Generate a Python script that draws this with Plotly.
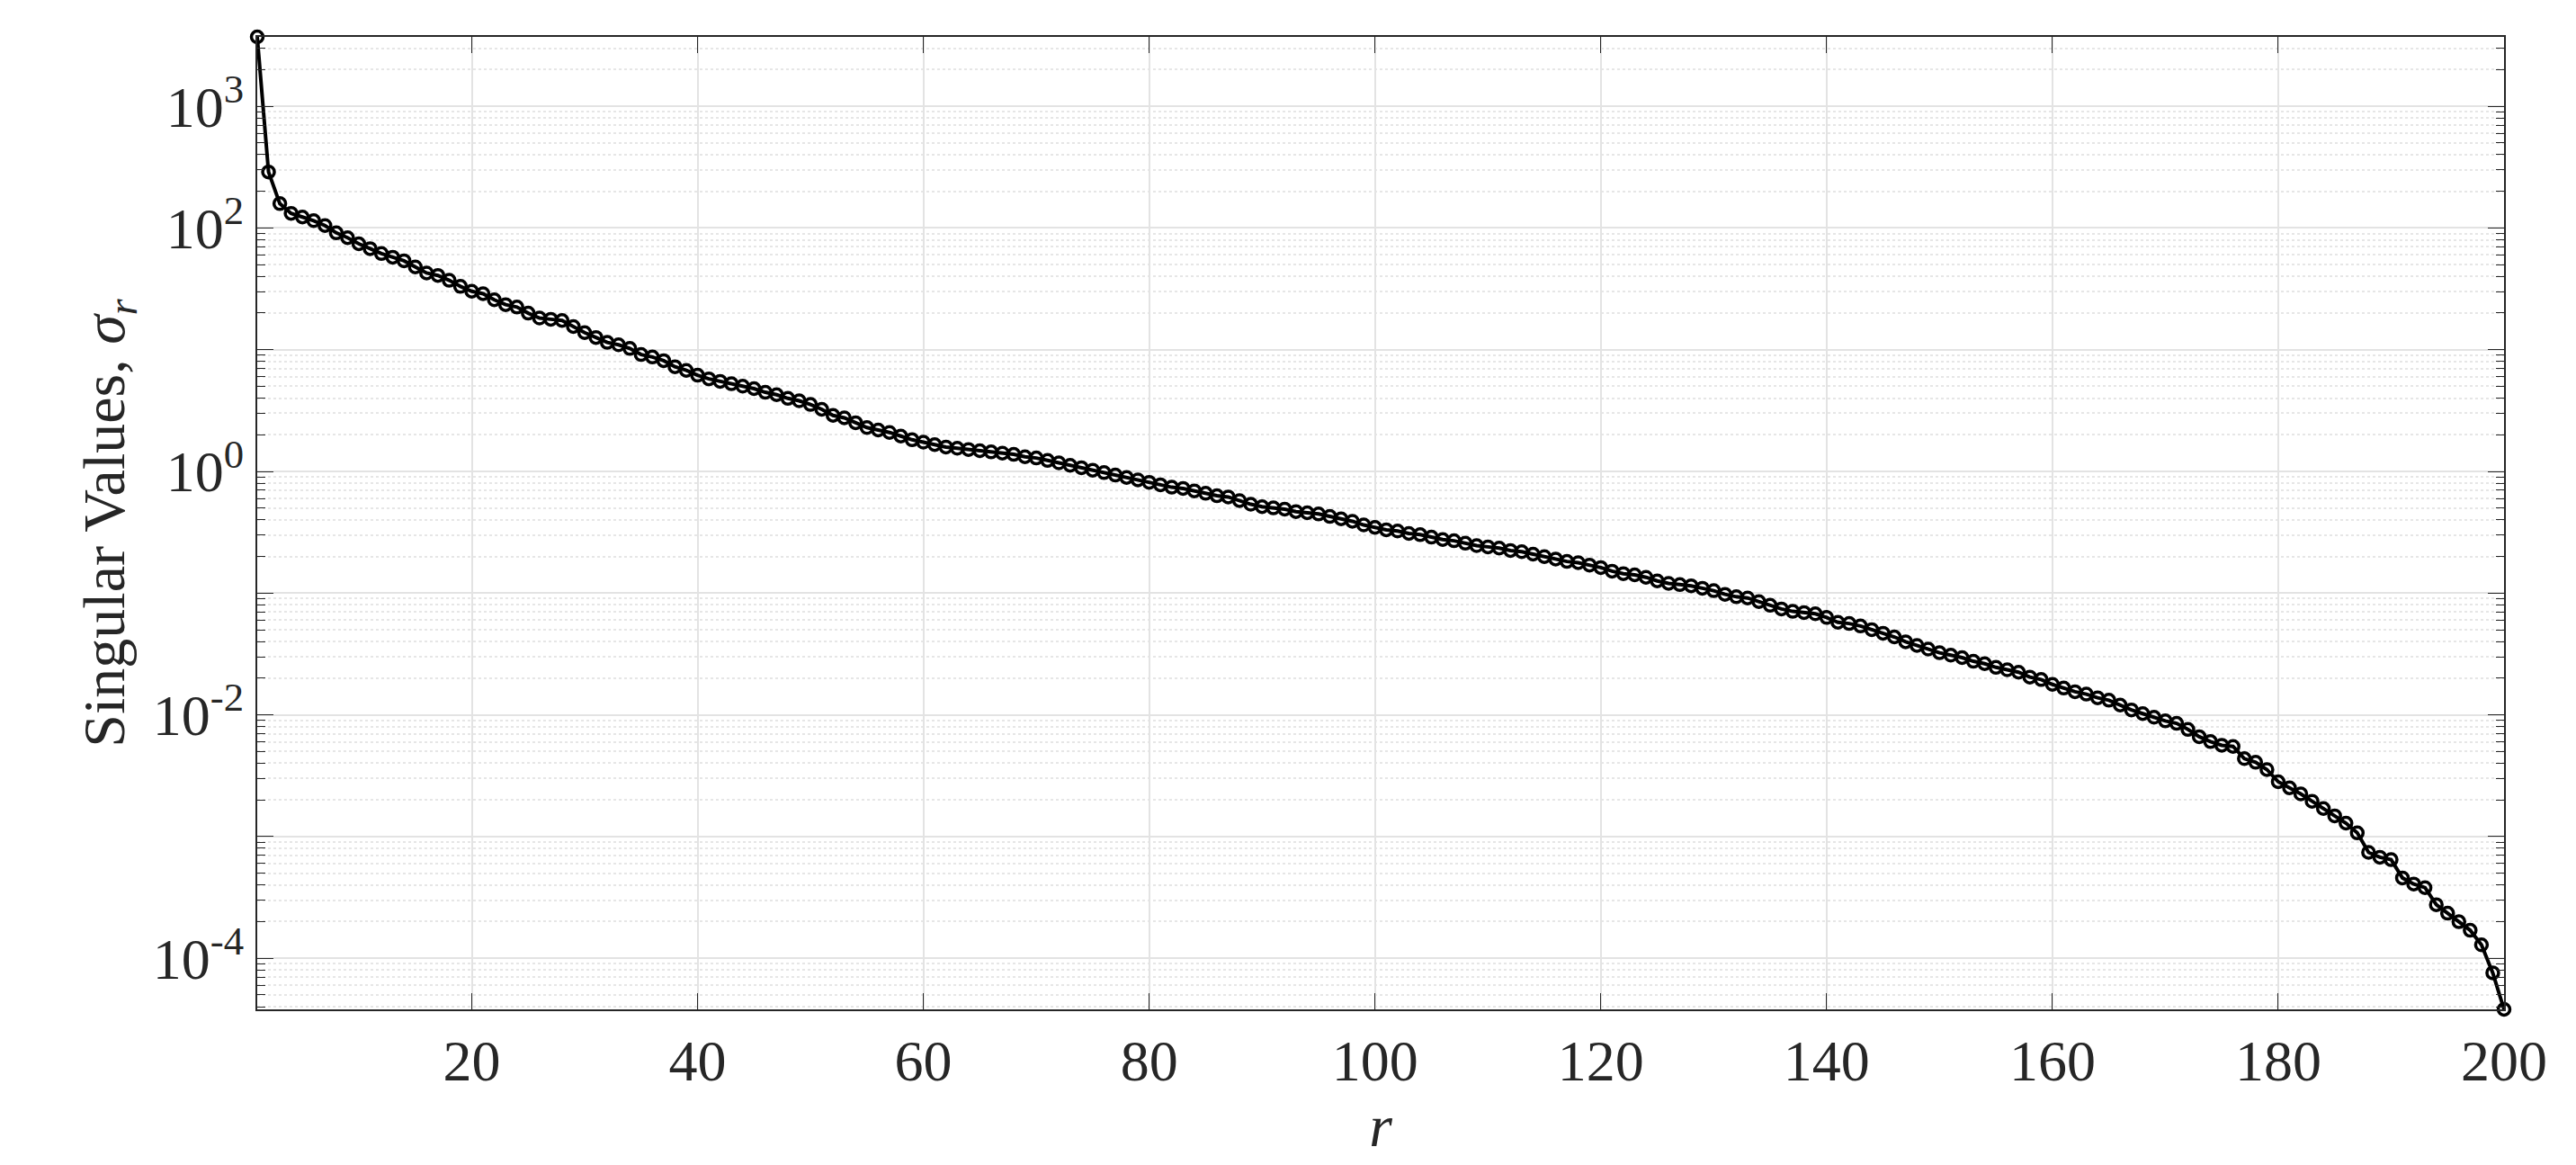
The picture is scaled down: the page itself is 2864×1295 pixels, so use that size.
import numpy as np
import plotly.graph_objects as go

r = list(range(1, 201))
log_sigma = [
    3.57, 2.46, 2.20, 2.12, 2.09, 2.06, 2.02, 1.96, 1.92, 1.87,
    1.83, 1.79, 1.76, 1.73, 1.68, 1.63, 1.61, 1.57, 1.52, 1.48,
    1.46, 1.41, 1.37, 1.35, 1.30, 1.26, 1.25, 1.24, 1.19, 1.14,
    1.10, 1.06, 1.04, 1.01, 0.96, 0.94, 0.91, 0.86, 0.83, 0.79,
    0.76, 0.74, 0.72, 0.70, 0.68, 0.65, 0.63, 0.60, 0.58, 0.55,
    0.51, 0.46, 0.44, 0.40, 0.36, 0.34, 0.32, 0.29, 0.26, 0.24,
    0.22, 0.20, 0.19, 0.18, 0.17, 0.16, 0.15, 0.14, 0.12, 0.11,
    0.09, 0.07, 0.05, 0.03, 0.01, -0.01, -0.03, -0.05, -0.07, -0.09,
    -0.11, -0.13, -0.14, -0.16, -0.18, -0.20, -0.21, -0.24, -0.27, -0.29,
    -0.30, -0.31, -0.33, -0.34, -0.35, -0.37, -0.39, -0.41, -0.44, -0.46,
    -0.48, -0.49, -0.51, -0.52, -0.54, -0.56, -0.57, -0.59, -0.61, -0.62,
    -0.63, -0.65, -0.66, -0.68, -0.70, -0.72, -0.74, -0.75, -0.77, -0.79,
    -0.82, -0.84, -0.85, -0.87, -0.90, -0.92, -0.93, -0.94, -0.96, -0.98,
    -1.01, -1.03, -1.04, -1.07, -1.10, -1.13, -1.15, -1.16, -1.17, -1.20,
    -1.24, -1.25, -1.27, -1.30, -1.33, -1.36, -1.40, -1.43, -1.46, -1.49,
    -1.51, -1.53, -1.56, -1.58, -1.61, -1.63, -1.65, -1.69, -1.71, -1.75,
    -1.78, -1.81, -1.83, -1.86, -1.88, -1.92, -1.96, -1.99, -2.02, -2.05,
    -2.07, -2.12, -2.18, -2.22, -2.25, -2.26, -2.36, -2.39, -2.45, -2.55,
    -2.60, -2.65, -2.71, -2.77, -2.83, -2.89, -2.97, -3.13, -3.17, -3.19,
    -3.34, -3.39, -3.42, -3.56, -3.63, -3.70, -3.77, -3.89, -4.12, -4.42,
]
sigma = [10 ** v for v in log_sigma]

x_ticks = [20, 40, 60, 80, 100, 120, 140, 160, 180, 200]
y_decades = [1e-5, 1e-4, 1e-3, 1e-2, 1e-1, 1e0, 1e1, 1e2, 1e3, 1e4]
y_labels = {1e-4: "10<sup>-4</sup>", 1e-2: "10<sup>-2</sup>", 1e0: "10<sup>0</sup>",
            1e2: "10<sup>2</sup>", 1e3: "10<sup>3</sup>"}

minor_vals = [m * d for d in y_decades for m in range(2, 10)]

fig = go.Figure(go.Scatter(
    x=r, y=sigma, mode="lines+markers",
    line=dict(color="black", width=4),
    marker=dict(symbol="circle-open", size=13, color="black", line=dict(width=3.5)),
    cliponaxis=False,
))

font = "Liberation Serif, Times New Roman, serif"
fig.update_layout(
    width=2864, height=1295,
    margin=dict(l=278, r=88, t=33, b=181),
    paper_bgcolor="white", plot_bgcolor="white",
    showlegend=False,
    font=dict(family=font, color="#262626", size=64),
)
fig.update_xaxes(
    range=[1, 200], tickvals=x_ticks, ticks="inside", ticklen=18,
    tickcolor="#262626", showline=True, linecolor="#262626", linewidth=2,
    mirror="ticks", showgrid=True, gridcolor="#e3e3e3", gridwidth=1.5,
    zeroline=False, tickfont=dict(size=64),
    title=dict(text="<i>r</i>", font=dict(size=66), standoff=4),
)
fig.update_yaxes(
    type="log", range=[-4.42, 3.57],
    tickvals=y_decades, ticktext=[y_labels.get(v, "") for v in y_decades],
    ticks="inside", ticklen=18, tickcolor="#262626",
    showline=True, linecolor="#262626", linewidth=2, mirror="ticks",
    showgrid=True, gridcolor="#e3e3e3", gridwidth=1.5, zeroline=False,
    tickfont=dict(size=64),
    minor=dict(tickvals=minor_vals, ticks="inside", ticklen=9, tickcolor="#262626",
               showgrid=True, gridcolor="#e6e6e6", griddash="dot", gridwidth=1.5),
    title=dict(text="Singular Values, <i>σ<sub>r</sub></i>", font=dict(size=66), standoff=10),
)

fig.write_html("out.html")
